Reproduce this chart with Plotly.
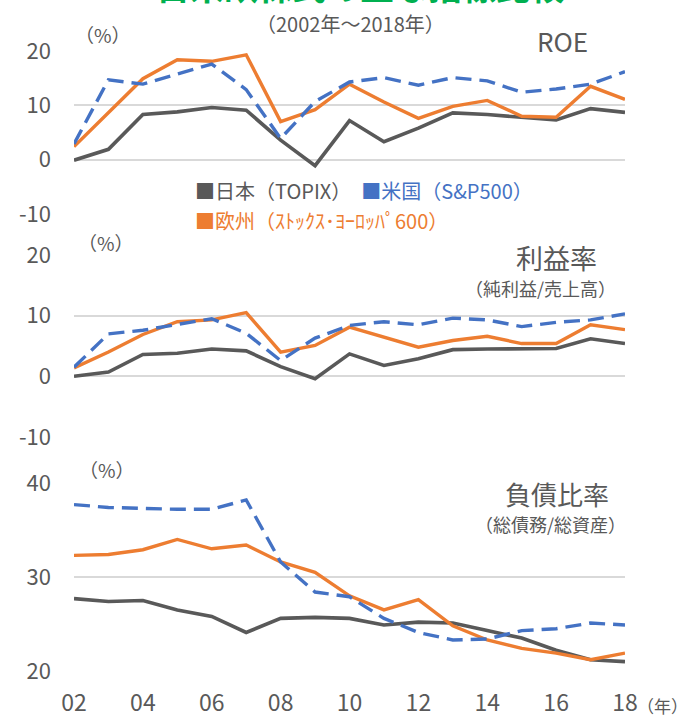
import plotly.graph_objects as go

years = list(range(2002, 2019))
names = ["日本（TOPIX）", "米国（S&P500）", "欧州（ｽﾄｯｸｽ･ﾖｰﾛｯﾊﾟ600）"]

roe_jp = [-0.1, 1.9, 8.3, 8.8, 9.6, 9.1, 3.6, -1.1, 7.2, 3.3, 5.8, 8.6, 8.3, 7.8, 7.3, 9.4, 8.7]
roe_us = [2.9, 14.7, 13.9, 15.7, 17.6, 12.9, 3.9, 10.7, 14.3, 15.1, 13.7, 15.1, 14.5, 12.4, 13.0, 13.9, 16.2]
roe_eu = [2.4, 8.7, 14.9, 18.4, 18.1, 19.3, 7.0, 9.2, 13.9, 10.6, 7.6, 9.8, 10.9, 8.0, 7.8, 13.5, 11.1]

pm_jp = [0.0, 0.7, 3.6, 3.8, 4.5, 4.2, 1.6, -0.4, 3.7, 1.8, 2.9, 4.4, 4.5, 4.6, 4.6, 6.2, 5.4]
pm_us = [1.5, 7.0, 7.6, 8.5, 9.5, 7.1, 2.6, 6.3, 8.4, 9.0, 8.5, 9.6, 9.3, 8.2, 8.9, 9.3, 10.3]
pm_eu = [1.4, 4.0, 6.9, 9.0, 9.3, 10.5, 4.0, 5.1, 8.1, 6.4, 4.8, 5.9, 6.6, 5.4, 5.4, 8.5, 7.7]

dr_jp = [27.7, 27.4, 27.5, 26.5, 25.8, 24.1, 25.6, 25.7, 25.6, 24.9, 25.2, 25.1, 24.3, 23.5, 22.2, 21.2, 21.0]
dr_us = [37.7, 37.4, 37.3, 37.2, 37.2, 38.2, 31.6, 28.4, 27.9, 25.6, 24.1, 23.3, 23.4, 24.3, 24.5, 25.1, 24.9]
dr_eu = [32.3, 32.4, 32.9, 34.0, 33.0, 33.4, 31.6, 30.5, 28.0, 26.5, 27.6, 24.8, 23.3, 22.4, 21.9, 21.2, 21.9]

xtick_vals = [2002, 2004, 2006, 2008, 2010, 2012, 2014, 2016, 2018]
xtick_text = ["02", "04", "06", "08", "10", "12", "14", "16", "18"]
ytick_vals_pct = [-10, 0, 10, 20]
ytick_text_pct = ["-10", "0", "10", "20"]
ytick_vals_debt = [20, 30, 40]
ytick_text_debt = ["20", "30", "40"]

W, H = 689, 717
C_JP, C_US, C_EU = "#595959", "#4472c4", "#ed7d31"
GRAY = "#595959"
FONT = "Noto Sans CJK JP"

def px(x):
    return x / W

def py(y):
    return 1 - y / H

fig = go.Figure()

panels = [
    ("x", "y", roe_jp, roe_us, roe_eu),
    ("x2", "y2", pm_jp, pm_us, pm_eu),
    ("x3", "y3", dr_jp, dr_us, dr_eu),
]
for xa, ya, jp, us, eu in panels:
    fig.add_trace(go.Scatter(x=years, y=jp, mode="lines", xaxis=xa, yaxis=ya,
                             line=dict(color=C_JP, width=3.6), name=names[0], showlegend=False))
    fig.add_trace(go.Scatter(x=years, y=eu, mode="lines", xaxis=xa, yaxis=ya,
                             line=dict(color=C_EU, width=3.4), name=names[2], showlegend=False))
    fig.add_trace(go.Scatter(x=years, y=us, mode="lines", xaxis=xa, yaxis=ya,
                             line=dict(color=C_US, width=3.4, dash="16px,8px"), name=names[1], showlegend=False))

xdom = [px(74), px(625)]
common_x = dict(range=[2002, 2018], domain=xdom, showgrid=False, zeroline=False,
                showline=False, tickvals=xtick_vals, ticks="", automargin=False)
common_y = dict(showgrid=True, gridcolor="#d9d9d9", gridwidth=1.6, zeroline=False,
                showline=False, ticks="", tickfont=dict(family=FONT, size=22, color=GRAY),
                ticklabelstandoff=22, automargin=False)

fig.update_layout(
    width=W, height=H,
    margin=dict(l=0, r=0, t=0, b=0, pad=0),
    paper_bgcolor="white", plot_bgcolor="white",
    showlegend=False,
    xaxis=dict(**common_x, anchor="y", showticklabels=False),
    xaxis2=dict(**common_x, anchor="y2", showticklabels=False),
    xaxis3=dict(**common_x, anchor="y3", showticklabels=True, ticktext=xtick_text,
                tickfont=dict(family=FONT, size=23, color=GRAY), ticklabelstandoff=16),
    yaxis=dict(**common_y, anchor="x", domain=[py(214), py(51)], range=[-10, 20],
               tickvals=ytick_vals_pct, ticktext=ytick_text_pct),
    yaxis2=dict(**common_y, anchor="x2", domain=[py(437), py(255)], range=[-10, 20],
                tickvals=ytick_vals_pct, ticktext=ytick_text_pct),
    yaxis3=dict(**common_y, anchor="x3", domain=[py(671), py(483)], range=[20, 40],
                tickvals=ytick_vals_debt, ticktext=ytick_text_debt),
)

def ann(text, x, y, size, color=GRAY, xanchor="center", bg=None):
    d = dict(text=text, x=px(x), y=py(y), xref="paper", yref="paper", showarrow=False,
             xanchor=xanchor, yanchor="middle", borderpad=0,
             font=dict(family=FONT, size=size, color=color))
    if bg:
        d["bgcolor"] = bg
        d["borderpad"] = 1
    fig.add_annotation(**d)

# title (cut off at top in the reference)
ann("<b>日米欧株式の主な指標比較</b>", 360, -15, 34, color="#00b050")
ann("（2002年～2018年）", 350, 23, 20)

ann("（%）", 103, 35, 19)
ann("（%）", 106, 243, 19)
ann("（%）", 107, 469, 19)

ann("ROE", 562, 40, 26, bg="white")
ann("利益率", 556, 258, 27, bg="white")
ann("（純利益/売上高）", 540, 288, 18)
ann("負債比率", 557, 493, 26, bg="white")
ann("（総債務/総資産）", 550, 524, 18)

ann("（年）", 689, 705, 17, xanchor="right")

# legend
leg1 = (f'<span style="color:{C_JP}">■{names[0]}</span>　'
        f'<span style="color:{C_US}">■{names[1]}</span>')
leg2 = f'<span style="color:{C_EU}">■{names[2]}</span>'
fig.add_shape(type="rect", xref="paper", yref="paper", x0=px(176), x1=px(566),
              y0=py(234), y1=py(178), fillcolor="white", line=dict(width=0), layer="between")
ann(leg1, 194, 191, 20, xanchor="left")
ann(leg2, 194, 220, 20, xanchor="left")

fig.write_html("out.html", config={"displayModeBar": False},
               post_script="document.body.style.margin='0';document.body.style.overflow='hidden';")
